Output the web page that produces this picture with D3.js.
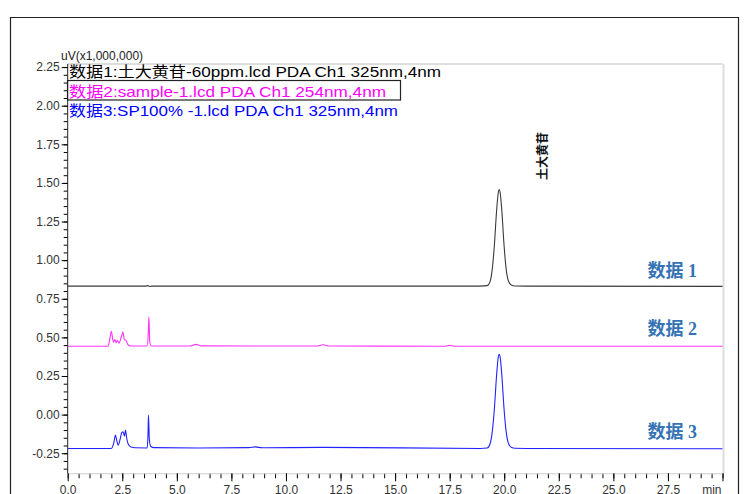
<!DOCTYPE html>
<html>
<head>
<meta charset="utf-8">
<script src="https://cdn.jsdelivr.net/npm/d3@7/dist/d3.min.js"></script>
<style>
  body { margin: 0; background: #fff; }
  svg { display: block; }
</style>
</head>
<body>
<svg id="chart" width="749" height="494"></svg>
<script>
// chromatogram traces: [time (min), signal (uV x1,000,000)]
var trace1 = [
  [0, 0.832], [3.55, 0.832], [3.68, 0.835], [3.75, 0.829], [3.85, 0.832],
  [10, 0.832], [18.9, 0.832], [19.22, 0.835], [19.35, 0.861], [19.45, 0.94],
  [19.55, 1.10], [19.65, 1.32], [19.72, 1.43], [19.77, 1.457], [19.82, 1.43],
  [19.89, 1.32], [19.99, 1.10], [20.09, 0.94], [20.19, 0.866], [20.32, 0.839],
  [20.5, 0.833], [21.0, 0.832], [30, 0.830]
];
var trace2 = [
  [0, 0.443], [1.85, 0.443], [1.93, 0.49], [2.0, 0.54], [2.06, 0.49],
  [2.1, 0.468], [2.16, 0.486], [2.22, 0.466], [2.28, 0.48], [2.35, 0.463],
  [2.45, 0.50], [2.53, 0.534], [2.6, 0.485], [2.67, 0.482], [2.75, 0.455],
  [2.85, 0.446], [3.0, 0.444], [3.64, 0.444], [3.69, 0.52], [3.72, 0.633],
  [3.76, 0.47], [3.82, 0.446], [3.95, 0.444], [5.6, 0.444], [5.87, 0.455],
  [6.1, 0.445], [11.4, 0.444], [11.7, 0.452], [12.0, 0.444], [17.3, 0.443],
  [17.5, 0.448], [17.7, 0.443], [30, 0.443]
];
var trace3 = [
  [0, -0.219], [2.0, -0.219], [2.1, -0.19], [2.19, -0.133], [2.25, -0.17],
  [2.31, -0.198], [2.4, -0.16], [2.47, -0.118], [2.54, -0.111], [2.6, -0.14],
  [2.65, -0.10], [2.7, -0.15], [2.77, -0.19], [2.9, -0.21], [3.1, -0.215],
  [3.64, -0.216], [3.68, -0.12], [3.70, -0.003], [3.74, -0.16], [3.8, -0.205],
  [3.95, -0.214], [6.0, -0.216], [8.3, -0.214], [8.6, -0.209], [8.9, -0.215],
  [11.7, -0.212], [18.9, -0.219], [19.22, -0.216], [19.35, -0.19], [19.45, -0.112],
  [19.55, 0.04], [19.65, 0.255], [19.72, 0.365], [19.77, 0.391], [19.82, 0.365],
  [19.89, 0.255], [19.99, 0.04], [20.09, -0.112], [20.19, -0.185], [20.32, -0.212],
  [20.5, -0.218], [21.0, -0.219], [30, -0.221]
];

var traceColors = ['#3a3a3a', '#ff33ff', '#2222ff'];
var legendLines = [
  '数据1:土大黄苷-60ppm.lcd PDA Ch1 325nm,4nm',
  '数据2:sample-1.lcd PDA Ch1 254nm,4nm',
  '数据3:SP100% -1.lcd PDA Ch1 325nm,4nm'
];
var legendColors = ['#000000', '#ff00ff', '#0000ff'];
var traceNames = ['数据 1', '数据 2', '数据 3'];
var traceNameValues = [0.89, 0.515, -0.15];
var peakName = '土大黄苷';
var yMajor = [-0.25, 0.00, 0.25, 0.50, 0.75, 1.00, 1.25, 1.50, 1.75, 2.00, 2.25];
var xMajor = [0, 2.5, 5, 7.5, 10, 12.5, 15, 17.5, 20, 22.5, 25, 27.5];

(function () {
  var svg = d3.select('#chart');
  var plotLeft = 67.7, plotRight = 722.5, plotTop = 64, plotBottom = 473.3;
  var axisFont = 'Liberation Sans, Arial, sans-serif';

  var x = d3.scaleLinear().domain([0, 30]).range([plotLeft, plotRight]);
  var y = d3.scaleLinear().domain([-0.38, 2.27]).range([plotBottom, plotTop]);

  // outer frame
  svg.append('path')
    .attr('d', 'M10.5,500 V17.5 H738.5 V500')
    .attr('fill', 'none').attr('stroke', '#222').attr('stroke-width', 1.2);

  // plot border (top / right)
  svg.append('line').attr('x1', plotLeft).attr('x2', plotRight).attr('y1', plotTop).attr('y2', plotTop)
    .attr('stroke', '#bbb').attr('stroke-width', 1);
  svg.append('line').attr('x1', plotRight + 1).attr('x2', plotRight + 1).attr('y1', plotTop).attr('y2', plotBottom)
    .attr('stroke', '#ddd').attr('stroke-width', 2);

  // y axis
  var yMinor = d3.range(-35, 227, 5).map(function (d) { return d / 100; });
  svg.append('g').attr('transform', 'translate(' + plotLeft + ',0)')
    .call(d3.axisLeft(y).tickValues(yMinor).tickSize(4).tickFormat(''))
    .call(function (g) { g.select('.domain').remove(); });
  var yAxis = svg.append('g').attr('transform', 'translate(' + plotLeft + ',0)')
    .call(d3.axisLeft(y).tickValues(yMajor).tickSize(6).tickPadding(2).tickSizeOuter(0));
  yAxis.select('.domain').attr('d', 'M0,' + plotTop + 'V' + plotBottom).attr('stroke', '#222');
  yAxis.selectAll('text').attr('font-family', axisFont)
    .attr('font-size', 12).attr('fill', '#333')
    .text(function (d) { return d3.format('.2f')(d).replace('−', '-'); });

  // x axis
  var xMinor = d3.range(0, 301, 5).map(function (d) { return d / 10; });
  svg.append('g').attr('transform', 'translate(0,' + plotBottom + ')')
    .call(d3.axisBottom(x).tickValues(xMinor).tickSize(5).tickFormat(''))
    .call(function (g) { g.select('.domain').remove(); });
  var xAxis = svg.append('g').attr('transform', 'translate(0,' + plotBottom + ')')
    .call(d3.axisBottom(x).tickValues(xMajor.concat([30])).tickSize(8).tickPadding(4).tickSizeOuter(0)
      .tickFormat(function (d) { return d === 30 ? '' : d3.format('.1f')(d); }));
  xAxis.select('.domain').attr('stroke', '#ccc');
  xAxis.selectAll('text').attr('font-family', axisFont)
    .attr('font-size', 12).attr('fill', '#333');
  svg.append('text').attr('x', plotRight - 1).attr('y', 494)
    .attr('text-anchor', 'end').attr('font-family', axisFont)
    .attr('font-size', 12).attr('fill', '#333').text('min');

  // unit label
  svg.append('text').attr('x', 61).attr('y', 60)
    .attr('font-family', axisFont)
    .attr('font-size', 12).attr('fill', '#222').text('uV(x1,000,000)');

  // traces
  var line = d3.line()
    .x(function (d) { return x(d[0]); })
    .y(function (d) { return y(d[1]); })
    .curve(d3.curveMonotoneX);
  [trace1, trace2, trace3].forEach(function (t, i) {
    svg.append('path').datum(t)
      .attr('d', line)
      .attr('fill', 'none')
      .attr('stroke', traceColors[i])
      .attr('stroke-width', 1.1);
  });

  // legend
  var legendWidths = [372, 317, 329];
  legendLines.forEach(function (s, i) {
    svg.append('text')
      .attr('x', 69).attr('y', 77 + i * 19.5)
      .attr('font-family', 'Liberation Sans, Noto Sans CJK SC, sans-serif')
      .attr('font-size', 15)
      .attr('fill', legendColors[i])
      .attr('textLength', legendWidths[i])
      .attr('lengthAdjust', 'spacingAndGlyphs')
      .text(s);
  });
  svg.append('rect').attr('x', 67.5).attr('y', 80.5).attr('width', 333).attr('height', 19.5)
    .attr('fill', 'none').attr('stroke', '#222').attr('stroke-width', 1.2);

  // trace names
  traceNames.forEach(function (s, i) {
    svg.append('text')
      .attr('x', 697).attr('y', y(traceNameValues[i]))
      .attr('text-anchor', 'end')
      .attr('font-family', 'Times New Roman, Liberation Serif, Noto Sans CJK SC, serif')
      .attr('font-weight', 'bold')
      .attr('font-size', 18)
      .attr('fill', '#3573b5')
      .text(s);
  });

  // peak label
  svg.append('text')
    .attr('transform', 'translate(' + (x(21.92) + 1) + ',180) rotate(-90)')
    .attr('font-family', 'Noto Sans CJK SC, sans-serif')
    .attr('font-weight', 'bold')
    .attr('font-size', 12)
    .attr('fill', '#111')
    .text(peakName);
})();
</script>
</body>
</html>
